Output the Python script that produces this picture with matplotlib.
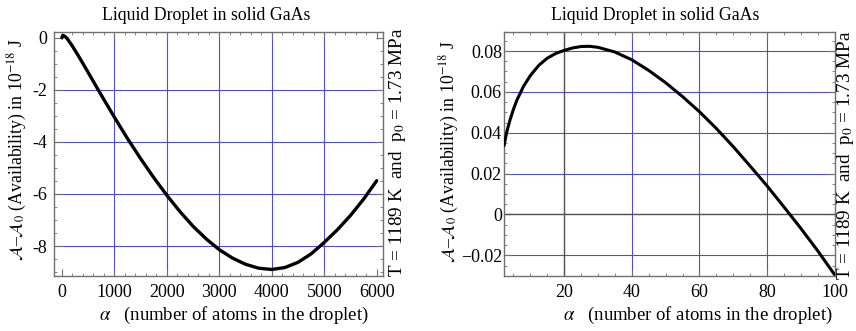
import matplotlib
matplotlib.use("Agg")
import matplotlib.pyplot as plt
from matplotlib.ticker import MultipleLocator, FixedLocator

plt.rcParams['font.family'] = ['Liberation Serif', 'DejaVu Serif']
plt.rcParams['mathtext.fontset'] = 'stix'

# ---- data ----
title = "Liquid Droplet in solid GaAs"
xlabel_text = r"$\alpha$   (number of atoms in the droplet)"
ylabel_text = r"$\mathcal{A}$–$\mathcal{A}_0$ (Availability) in 10$^{-18}$ J"
side_text = r"T = 1189 K  and  p$_0$ = 1.73 MPa"

left_x = [0, 10, 25, 50, 86, 100, 200, 300, 400, 500, 750, 1000, 1250, 1500,
          1750, 2000, 2250, 2500, 2750, 3000, 3250, 3500, 3750, 4000, 4250,
          4500, 4750, 5000, 5250, 5500, 5750, 6000]
left_y = [0.0, 0.068, 0.082, 0.064, 0.0, -0.03, -0.32, -0.645, -0.985, -1.33,
          -2.2, -3.05, -3.87, -4.64, -5.37, -6.05, -6.675, -7.24, -7.725,
          -8.14, -8.46, -8.70, -8.85, -8.90, -8.825, -8.625, -8.30, -7.86,
          -7.375, -6.825, -6.20, -5.49]

right_x = [2.2, 3, 4, 5, 6, 8, 10, 12.5, 15, 17.5, 20, 22.5, 25, 27.5, 30,
           35, 40, 45, 50, 55, 60, 65, 70, 75, 80, 85, 90, 95, 100]
right_y = [0.0337, 0.0403, 0.0464, 0.0515, 0.0559, 0.0628, 0.0680, 0.0730,
           0.0765, 0.0788, 0.0803, 0.0815, 0.0822, 0.0823, 0.0818, 0.0795,
           0.0757, 0.0705, 0.0645, 0.0577, 0.0503, 0.0421, 0.0332, 0.0237,
           0.0140, 0.0037, -0.0068, -0.0178, -0.0295]

left_xticks = [0, 1000, 2000, 3000, 4000, 5000, 6000]
left_xticklabels = ["0", "1000", "2000", "3000", "4000", "5000", "6000"]
left_yticks = [0, -2, -4, -6, -8]
left_yticklabels = ["0", "-2", "-4", "-6", "-8"]
left_xgrid = [1000, 2000, 3000, 4000, 5000]
left_ygrid = [-2, -4, -6, -8]

right_xticks = [20, 40, 60, 80, 100]
right_xticklabels = ["20", "40", "60", "80", "100"]
right_yticks = [0.08, 0.06, 0.04, 0.02, 0, -0.02]
right_yticklabels = ["0.08", "0.06", "0.04", "0.02", "0", "−0.02"]
right_xgrid = [40, 60, 80]
right_ygrid = [0.08, 0.06, 0.04, 0.02, -0.02]
right_axes_x = [20]
right_axes_y = [0]

W, H = 856, 331
fig = plt.figure(figsize=(W / 100, H / 100), dpi=100)

GRID = '#4f4fbf'
FRAME = '#707070'


def box(l, r, t, b):
    return [l / W, 1 - b / H, (r - l) / W, (b - t) / H]


def style(ax, xminor, yminor, ypad):
    for s in ax.spines.values():
        s.set_color(FRAME)
        s.set_linewidth(1.0)
    ax.xaxis.set_minor_locator(MultipleLocator(xminor))
    ax.yaxis.set_minor_locator(MultipleLocator(yminor))
    ax.tick_params(which='both', direction='in', top=True, right=True,
                   color=FRAME, labelsize=13)
    ax.tick_params(which='major', length=5, width=0.8)
    ax.tick_params(which='minor', length=2.5, width=0.6)
    ax.tick_params(axis='x', pad=6)
    ax.tick_params(axis='y', pad=ypad)


# ---- left panel ----
ax1 = fig.add_axes(box(54, 383, 32, 276))
for g in left_xgrid:
    ax1.axvline(g, color=GRID, lw=0.8, zorder=1)
for g in left_ygrid:
    ax1.axhline(g, color=GRID, lw=0.8, zorder=1)
ax1.plot(left_x, left_y, color='black', lw=2.4, zorder=3,
         solid_capstyle='round', solid_joinstyle='round')
ax1.set_xlim(-150, 6120)
ax1.set_ylim(-9.15, 0.22)
ax1.xaxis.set_major_locator(FixedLocator(left_xticks))
ax1.set_xticklabels(left_xticklabels)
ax1.yaxis.set_major_locator(FixedLocator(left_yticks))
ax1.set_yticklabels(left_yticklabels)
style(ax1, 200, 0.5, 5)

# ---- right panel ----
ax2 = fig.add_axes(box(504, 835, 32, 276))
for g in right_xgrid:
    ax2.axvline(g, color=GRID, lw=0.8, zorder=1)
for g in right_ygrid:
    ax2.axhline(g, color=GRID, lw=0.8, zorder=1)
for g in right_axes_x:
    ax2.axvline(g, color='#505050', lw=1.0, zorder=2)
for g in right_axes_y:
    ax2.axhline(g, color='#505050', lw=1.0, zorder=2)
ax2.plot(right_x, right_y, color='black', lw=2.2, zorder=3,
         solid_capstyle='round', solid_joinstyle='round')
ax2.set_xlim(2.2, 100.1)
ax2.set_ylim(-0.0301, 0.0893)
ax2.xaxis.set_major_locator(FixedLocator(right_xticks))
ax2.set_xticklabels(right_xticklabels)
ax2.yaxis.set_major_locator(FixedLocator(right_yticks))
ax2.set_yticklabels(right_yticklabels)
style(ax2, 5, 0.005, 1.5)

# ---- texts ----
fig.text(206 / W, 1 - 15 / H, title, ha='center', va='center', fontsize=12.8)
fig.text(655 / W, 1 - 15 / H, title, ha='center', va='center', fontsize=12.8)

fig.text(234 / W, 1 - 315 / H, xlabel_text, ha='center', va='center', fontsize=13.5)
fig.text(698 / W, 1 - 315 / H, xlabel_text, ha='center', va='center', fontsize=13.5)

fig.text(17 / W, 1 - 150 / H, ylabel_text, ha='center', va='center',
         rotation=90, fontsize=12.8)
fig.text(449 / W, 1 - 152 / H, ylabel_text, ha='center', va='center',
         rotation=90, fontsize=12.8)

fig.text(397 / W, 1 - 152 / H, side_text, ha='center', va='center',
         rotation=90, fontsize=13.8)
fig.text(845 / W, 1 - 155 / H, side_text, ha='center', va='center',
         rotation=90, fontsize=13.8)

fig.savefig("out.png", dpi=100)
